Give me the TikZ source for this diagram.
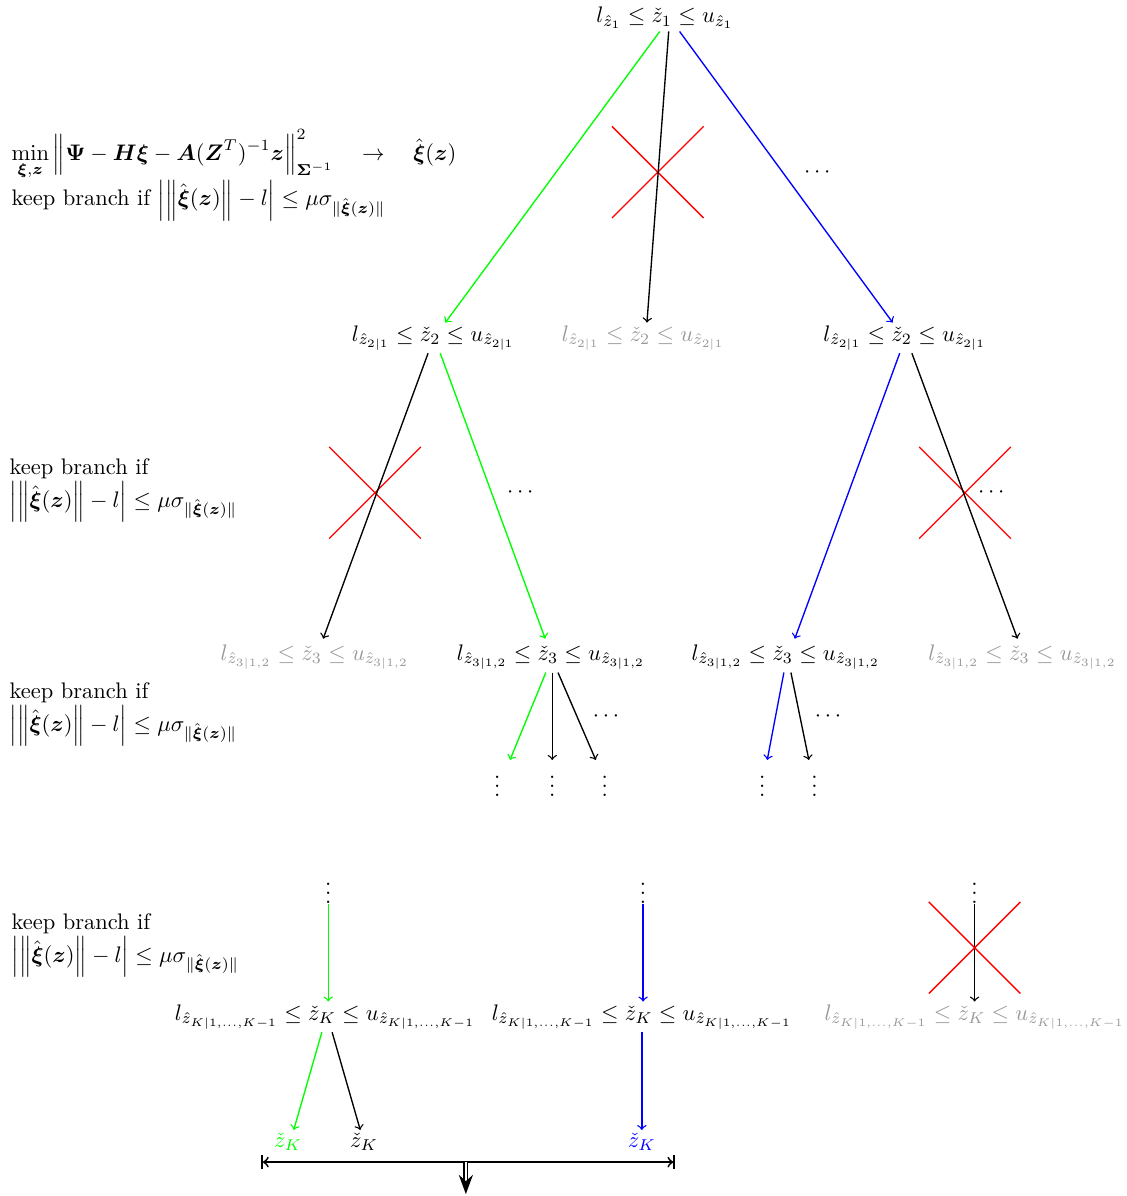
\documentclass[tikz,border=0pt]{standalone}
\usepackage{amsmath}
\usepackage{tikz}
\usetikzlibrary{arrows.meta,shapes.misc}
\definecolor{pruned}{gray}{0.6}

\begin{document}
\begin{tikzpicture}[
  bound/.style={inner sep=1pt},
  dead/.style={bound,text=pruned},
  cut/.style={cross out,draw=red,semithick,minimum size=1.41cm,inner sep=0pt},
  vdot/.style={inner sep=0pt},
  every path/.style={semithick},
  >=to]
  \useasboundingbox (0,0) rectangle (17.61,-18.69);

  % Level 1
  \node[bound] (t1) at (10.39,-0.28) {$l_{\hat z_1} \le \check z_1 \le u_{\hat z_1}$};
  \node[anchor=west,inner sep=0pt] (obj) at (0.17,-2.42) {$\displaystyle\min_{\boldsymbol\xi,\boldsymbol z} \left\|\boldsymbol\Psi - \boldsymbol H\boldsymbol\xi - \boldsymbol A(\boldsymbol Z^T)^{-1}\boldsymbol z\right\|^2_{\boldsymbol\Sigma^{-1}} \quad\rightarrow\quad \hat{\boldsymbol\xi}(\boldsymbol z)$};
  \node[anchor=west,inner sep=0pt] (keep1) at (0.17,-3.13) {keep branch if $\left|\left\|\hat{\boldsymbol\xi}(\boldsymbol z)\right\| - l\right| \le \mu\sigma_{\|\hat{\boldsymbol\xi}(\boldsymbol z)\|}$};
  \node[cut] (x1) at (10.28,-2.69) {};
  \node (dots1) at (12.80,-2.70) {$\cdots$};

  % Level 2
  \node[bound] (a2) at (6.77,-5.28) {$l_{\hat z_{2|1}} \le \check z_2 \le u_{\hat z_{2|1}}$};
  \node[dead] (b2) at (10.05,-5.28) {$l_{\hat z_{2|1}} \le \check z_2 \le u_{\hat z_{2|1}}$};
  \node[bound] (c2) at (14.14,-5.28) {$l_{\hat z_{2|1}} \le \check z_2 \le u_{\hat z_{2|1}}$};
  \draw[green,->] ([xshift=-0.08cm]t1.south) -- ([xshift=0.19cm]a2.north);
  \draw[->] ([xshift=0.06cm]t1.south) -- ([xshift=0.06cm]b2.north);
  \draw[blue,->] ([xshift=0.23cm]t1.south) -- ([xshift=-0.19cm]c2.north);

  \node[anchor=west,inner sep=0pt,align=left] (keep2) at (0.14,-7.66) {keep branch if\\$\left|\left\|\hat{\boldsymbol\xi}(\boldsymbol z)\right\| - l\right| \le \mu\sigma_{\|\hat{\boldsymbol\xi}(\boldsymbol z)\|}$};
  \node[cut] (x2) at (5.86,-7.70) {};
  \node (dots2) at (8.16,-7.70) {$\cdots$};
  \node[cut] (x3) at (15.08,-7.70) {};
  \node (dots3) at (15.52,-7.70) {$\cdots$};

  % Level 3
  \node[dead] (a3) at (4.92,-10.27) {$l_{\hat z_{3|1,2}} \le \check z_3 \le u_{\hat z_{3|1,2}}$};
  \node[bound] (b3) at (8.61,-10.27) {$l_{\hat z_{3|1,2}} \le \check z_3 \le u_{\hat z_{3|1,2}}$};
  \node[bound] (c3) at (12.28,-10.27) {$l_{\hat z_{3|1,2}} \le \check z_3 \le u_{\hat z_{3|1,2}}$};
  \node[dead] (d3) at (15.98,-10.27) {$l_{\hat z_{3|1,2}} \le \check z_3 \le u_{\hat z_{3|1,2}}$};
  \draw[->] ([xshift=-0.08cm]a2.south) -- ([xshift=0.13cm,yshift=0.05cm]a3.north);
  \draw[green,->] ([xshift=0.11cm]a2.south) -- ([xshift=-0.09cm,yshift=0.05cm]b3.north);
  \draw[blue,->] ([xshift=-0.08cm]c2.south) -- ([xshift=0.14cm,yshift=0.05cm]c3.north);
  \draw[->] ([xshift=0.11cm]c2.south) -- ([xshift=-0.08cm,yshift=0.05cm]d3.north);

  \node[anchor=west,inner sep=0pt,align=left] (keep3) at (0.14,-11.16) {keep branch if\\$\left|\left\|\hat{\boldsymbol\xi}(\boldsymbol z)\right\| - l\right| \le \mu\sigma_{\|\hat{\boldsymbol\xi}(\boldsymbol z)\|}$};
  \node (dots4) at (9.50,-11.19) {$\cdots$};
  \node (dots5) at (12.97,-11.19) {$\cdots$};

  % Level 4
  \node[vdot] (v1) at (7.77,-12.18) {$\vdots$};
  \node[vdot] (v2) at (8.63,-12.18) {$\vdots$};
  \node[vdot] (v3) at (9.45,-12.18) {$\vdots$};
  \node[vdot] (v4) at (11.91,-12.18) {$\vdots$};
  \node[vdot] (v5) at (12.73,-12.18) {$\vdots$};
  \draw[green,->] ([xshift=-0.08cm]b3.south) -- ([xshift=0.2cm,yshift=0.03cm]v1.north);
  \draw[->] ([xshift=0.02cm]b3.south) -- ([yshift=0.03cm]v2.north);
  \draw[->] ([xshift=0.11cm]b3.south) -- ([xshift=-0.14cm,yshift=0.03cm]v3.north);
  \draw[blue,->] ([xshift=-0.03cm]c3.south) -- ([xshift=0.08cm,yshift=0.03cm]v4.north);
  \draw[->] ([xshift=0.08cm]c3.south) -- ([xshift=-0.09cm,yshift=0.03cm]v5.north);

  % Level K
  \node[vdot] (w1) at (5.13,-13.85) {$\vdots$};
  \node[vdot] (w2) at (10.05,-13.85) {$\vdots$};
  \node[vdot] (w3) at (15.23,-13.85) {$\vdots$};
  \node[bound] (aK) at (5.08,-15.89) {$l_{\hat z_{K|1,\dots,K-1}} \le \check z_K \le u_{\hat z_{K|1,\dots,K-1}}$};
  \node[bound] (bK) at (10.03,-15.89) {$l_{\hat z_{K|1,\dots,K-1}} \le \check z_K \le u_{\hat z_{K|1,\dots,K-1}}$};
  \node[dead] (cK) at (15.23,-15.89) {$l_{\hat z_{K|1,\dots,K-1}} \le \check z_K \le u_{\hat z_{K|1,\dots,K-1}}$};
  \draw[green,->] (w1.south) -- (w1.south |- aK.north);
  \draw[blue,->] (w2.south) -- (w2.south |- bK.north);
  \draw[->] (w3.south) -- (w3.south |- cK.north);
  \node[cut] (x4) at (15.23,-14.81) {};

  \node[anchor=west,inner sep=0pt,align=left] (keep4) at (0.17,-14.77) {keep branch if\\$\left|\left\|\hat{\boldsymbol\xi}(\boldsymbol z)\right\| - l\right| \le \mu\sigma_{\|\hat{\boldsymbol\xi}(\boldsymbol z)\|}$};

  % Result
  \node[bound,green] (zg) at (4.50,-17.84) {$\check z_K$};
  \node[bound] (zk) at (5.69,-17.84) {$\check z_K$};
  \node[bound,blue] (zb) at (10.03,-17.84) {$\check z_K$};
  \draw[green,->] ([xshift=-0.05cm]aK.south) -- ([xshift=0.09cm]zg.north);
  \draw[->] ([xshift=0.11cm]aK.south) -- ([xshift=-0.06cm]zk.north);
  \draw[blue,->] (bK.south -| zb.north) -- (zb.north);

  \coordinate (barL) at (4.08,-18.16);
  \coordinate (barR) at (10.55,-18.16);
  \coordinate (barM) at (7.28,-18.16);
  \coordinate (out) at (7.28,-18.66);
  \draw[thick,|<->|] (barL) -- (barR);
  \draw[double,thick,-{Stealth[length=3mm,width=2.2mm]}] (barM) -- (out);
\end{tikzpicture}
\end{document}
